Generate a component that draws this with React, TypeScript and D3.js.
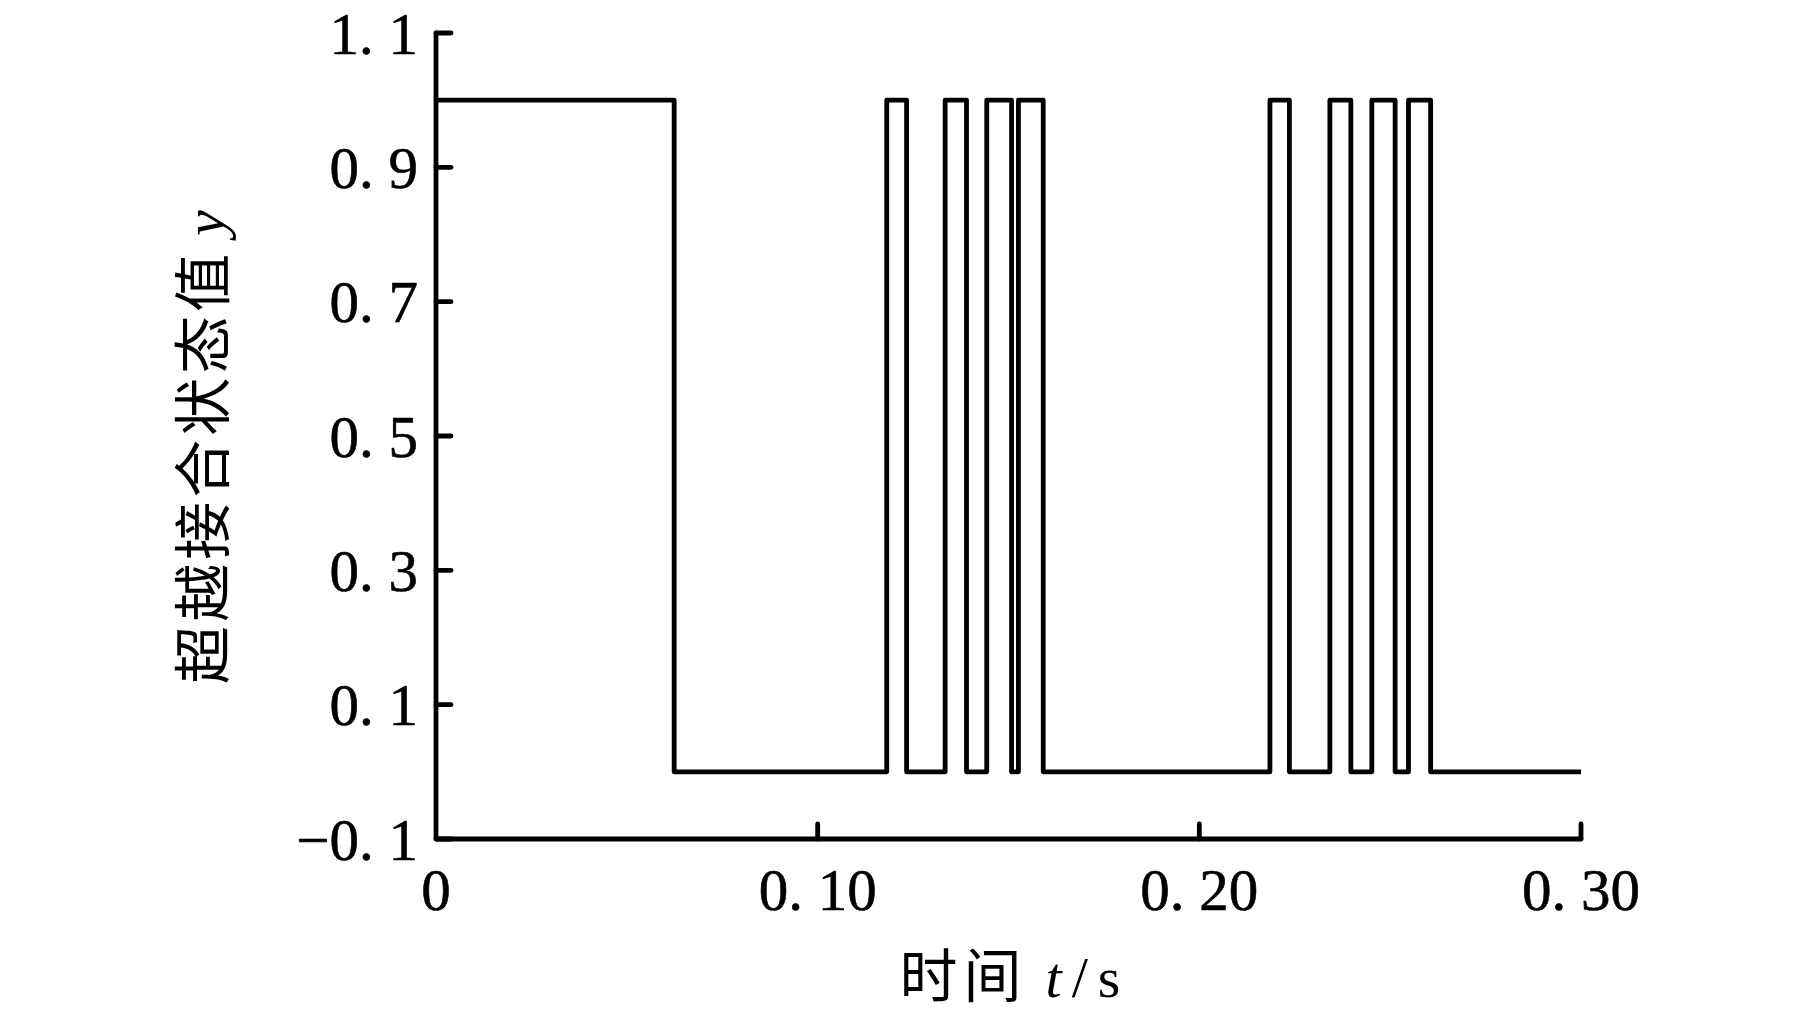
import React from "react";
import * as d3 from "d3";

const switchTimes = [0, 0.0624, 0.1181, 0.1233, 0.1334, 0.139, 0.1443, 0.1508, 0.1526, 0.1591, 0.2185, 0.2236, 0.2342, 0.2397, 0.2452, 0.2513, 0.2548, 0.2606, 0.3];
const stateValues = [1, 0, 1, 0, 1, 0, 1, 0, 1, 0, 1, 0, 1, 0, 1, 0, 1, 0, 0];
const xTicks = [0, 0.1, 0.2, 0.3];
const yTicks = [-0.1, 0.1, 0.3, 0.5, 0.7, 0.9, 1.1];
const xTitle = "时间";
const yTitle = "超越接合状态值";

const W = 1819;
const H = 1016;
const left = 436;
const right = 1581;
const top = 33;
const bottom = 839;
const serif = "'Liberation Serif', 'DejaVu Serif', serif";
const cjk = "'Noto Sans CJK SC', sans-serif";

function fmtY(v: number) {
  const s = Math.abs(v).toFixed(1).replace(".", ". ");
  return v < 0 ? "\u2212" + s : s;
}
function fmtX(v: number) {
  return v === 0 ? "0" : v.toFixed(2).replace(".", ". ");
}

export default function App() {
  const x = d3.scaleLinear().domain([0, 0.3]).range([left, right]);
  const y = d3.scaleLinear().domain([-0.1, 1.1]).range([bottom, top]);
  const pts = switchTimes.map((t, i) => [t, stateValues[i]] as [number, number]);
  const line = d3
    .line<[number, number]>()
    .x((d) => x(d[0]))
    .y((d) => y(d[1]))
    .curve(d3.curveStepAfter);
  const tickLen = 15;
  const sw = 4.8;
  return (
    <svg width={W} height={H} style={{ position: "absolute", left: 0, top: 0, background: "#fff" }}>
      <rect x={0} y={0} width={W} height={H} fill="#fff" />
      <path d={line(pts) || ""} fill="none" stroke="#000" strokeWidth={sw} strokeLinejoin="round" />
      <path
        d={`M${x(0)},${y(1.1)}V${y(-0.1)}H${x(0.3)}`}
        fill="none"
        stroke="#000"
        strokeWidth={sw}
        strokeLinejoin="round"
        strokeLinecap="round"
      />
      {yTicks.map((v) => (
        <g key={"y" + v}>
          <line x1={x(0)} x2={x(0) + tickLen} y1={y(v)} y2={y(v)} stroke="#000" strokeWidth={sw} strokeLinecap="round" />
          <text x={418} y={y(v)} dy="0.35em" textAnchor="end" fontFamily={serif} fontSize={59} fill="#000" stroke="#000" strokeWidth={0.6}>
            {fmtY(v)}
          </text>
        </g>
      ))}
      {xTicks.map((v) => (
        <g key={"x" + v}>
          {v > 0 && (
            <line x1={x(v)} x2={x(v)} y1={y(-0.1)} y2={y(-0.1) - tickLen} stroke="#000" strokeWidth={sw} strokeLinecap="round" />
          )}
          <text x={x(v)} y={910} textAnchor="middle" fontFamily={serif} fontSize={59} fill="#000" stroke="#000" strokeWidth={0.6}>
            {fmtX(v)}
          </text>
        </g>
      ))}
      <text x={1010} y={997} textAnchor="middle" fontSize={58} fill="#000">
        <tspan fontFamily={cjk} letterSpacing={6}>{xTitle}</tspan>
        <tspan fontFamily={serif} fontStyle="italic" dx={18}>t</tspan>
        <tspan fontFamily={serif} dx={10}>/</tspan>
        <tspan fontFamily={serif} dx={10}>s</tspan>
      </text>
      <text
        transform={`translate(224,447) rotate(-90)`}
        textAnchor="middle"
        fontSize={58}
        fill="#000"
      >
        <tspan fontFamily={cjk} letterSpacing={4}>{yTitle}</tspan>
        <tspan fontFamily={serif} fontStyle="italic" dx={14}>y</tspan>
      </text>
    </svg>
  );
}
